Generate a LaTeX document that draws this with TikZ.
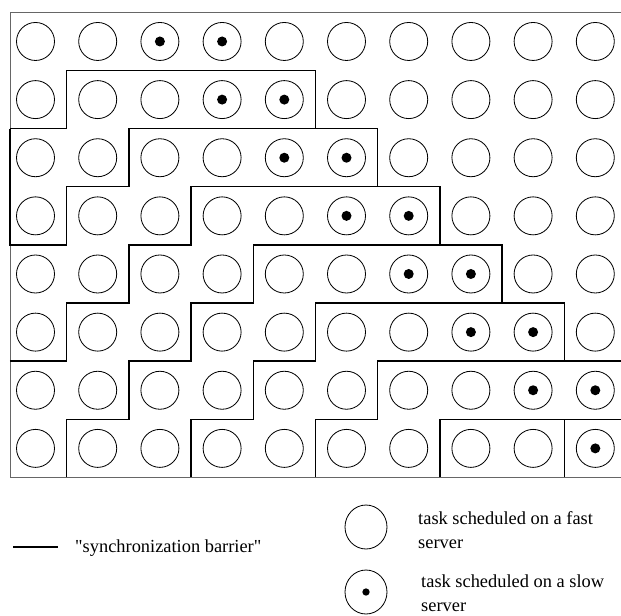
\documentclass[tikz,border=0pt]{standalone}
\usepackage{fontspec}
\setmainfont{Liberation Serif}[Ligatures=TeXOff]
\usepackage{tikz}
\usetikzlibrary{shapes.geometric}

\begin{document}
\begin{tikzpicture}[
    x=0.3mm, y=-0.3mm,
    task/.style={circle, draw, line width=0.7pt, minimum size=11.4mm, inner sep=0pt},
    keytask/.style={ellipse, draw, line width=0.7pt, minimum width=12.6mm, minimum height=13.2mm, inner sep=0pt},
    barrier/.style={draw, line width=1.2pt},
    frame/.style={draw, black!60, line width=0.8pt},
    keytext/.style={anchor=west, align=left, inner sep=0pt, font=\fontsize{15.7pt}{20pt}\selectfont}
]
\useasboundingbox (0,0) rectangle (621,615);

% Task grid
\begin{scope}[shift={(4.4,12.4)}, x=18.66mm, y=-17.439mm]
\foreach \r in {0,...,7}
  \foreach \c in {0,...,9}
    \node [task] (t\c-\r) at (\c+0.5,\r+0.5) {};

% Slow servers
\foreach \c/\r in {2/0,3/0,3/1,4/1,4/2,5/2,5/3,6/3,6/4,7/4,7/5,8/5,8/6,9/6,9/7}
  \fill (t\c-\r) circle (1.5mm);

% Frame
\draw [frame] (9.91,0) -- (0.09,0) -- (0.09,8) -- (9.91,8);

% Synchronization barriers
\draw [barrier] (0.09,2) -- (1,2) -- (1,1) -- (5,1) -- (5,2);
\draw [barrier] (0.09,2) -- (0.09,4) -- (1,4) -- (1,3) -- (2,3) -- (2,2) -- (6,2) -- (6,3);
\draw [barrier] (0.09,6) -- (1,6) -- (1,5) -- (2,5) -- (2,4) -- (3,4) -- (3,3) -- (7,3) -- (7,4);
\draw [barrier] (1,8) -- (1,7) -- (2,7) -- (2,6) -- (3,6) -- (3,5) -- (4,5) -- (4,4) -- (8,4) -- (8,5);
\draw [barrier] (3,8) -- (3,7) -- (4,7) -- (4,6) -- (5,6) -- (5,5) -- (9,5) -- (9,6);
\draw [barrier] (5,8) -- (5,7) -- (6,7) -- (6,6) -- (9.91,6);
\draw [barrier] (7,8) -- (7,7) -- (9.91,7);
\draw [barrier] (9,7) -- (9,8);
\end{scope}

% Legend
\coordinate (barA) at (13,547);
\coordinate (barB) at (58,547);
\draw [barrier] (barA) -- (barB);
\node [keytext] (bartext) at (75,548) {"synchronization barrier"};

\node [keytask] (fast) at (366,527) {};
\node [keytext] (fasttext) at (418,530) {task scheduled on a fast\\server};

\node [keytask] (slow) at (366,592) {};
\fill (slow) circle (1.1mm);
\node [keytext] (slowtext) at (421,593) {task scheduled on a slow\\server};

\end{tikzpicture}
\end{document}
